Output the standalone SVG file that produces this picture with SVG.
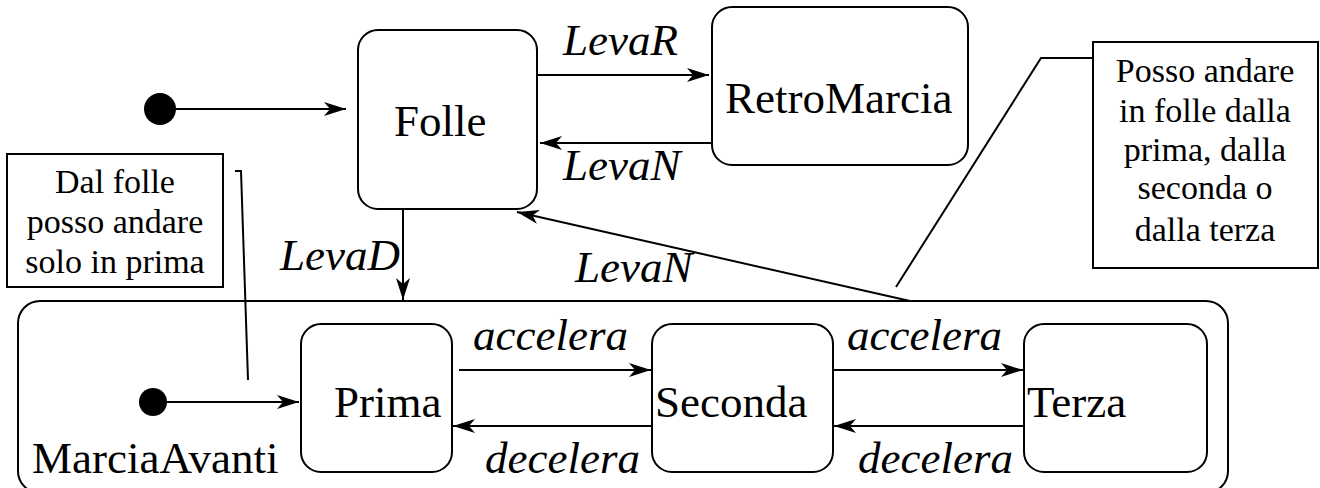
<svg xmlns="http://www.w3.org/2000/svg" width="1320" height="488" viewBox="0 0 1320 488" font-family="Liberation Serif, serif">
<style>
.box{fill:#fff;stroke:#000;stroke-width:2}
.note{fill:#fff;stroke:#000;stroke-width:2}
.ln{fill:none;stroke:#000;stroke-width:2}
.arr{fill:none;stroke:#000;stroke-width:2;marker-end:url(#ah)}
.t{font-family:'Liberation Serif',serif;font-size:45px;fill:#000}
.lbl{font-family:'Liberation Serif',serif;font-size:45px;font-style:italic;fill:#000}
.nt{font-family:'Liberation Serif',serif;font-size:34px;fill:#000;text-anchor:middle}
</style>
<defs>
<marker id="ah" markerUnits="userSpaceOnUse" markerWidth="24" markerHeight="16" refX="22" refY="7" orient="auto">
<path d="M0,0 L22,7 L0,14 L6,7 z" fill="#000"/>
</marker>
</defs>
<g id="MarciaAvanti">
<rect class="box" x="18" y="301" width="1210" height="192" rx="22"/>
<text class="t" x="32" y="473">MarciaAvanti</text>
</g>
<g id="init1"><circle cx="160" cy="109" r="16" fill="#000"/></g>
<g id="Folle">
<rect class="box" x="358" y="30" width="179" height="179" rx="20"/>
<text class="t" x="394" y="136">Folle</text>
</g>
<g id="RetroMarcia">
<rect class="box" x="712" y="7" width="256" height="158" rx="20"/>
<text class="t" x="725" y="113">RetroMarcia</text>
</g>
<g id="noteRight">
<rect class="note" x="1093" y="42" width="225" height="226"/>
<text class="nt" x="1205" y="82">Posso andare</text>
<text class="nt" x="1205" y="122">in folle dalla</text>
<text class="nt" x="1205" y="161">prima, dalla</text>
<text class="nt" x="1205" y="199">seconda o</text>
<text class="nt" x="1205" y="241">dalla terza</text>
</g>
<g id="noteLeft">
<rect class="note" x="7" y="154" width="216" height="133"/>
<text class="nt" x="115" y="193">Dal folle</text>
<text class="nt" x="115" y="233">posso andare</text>
<text class="nt" x="115" y="273">solo in prima</text>
</g>
<g id="init2"><circle cx="153" cy="402" r="14" fill="#000"/></g>
<g id="Prima">
<rect class="box" x="301" y="324" width="151" height="148" rx="20"/>
<text class="t" x="334" y="417">Prima</text>
</g>
<g id="Seconda">
<rect class="box" x="652" y="324" width="181" height="148" rx="20"/>
<text class="t" x="655" y="417">Seconda</text>
</g>
<g id="Terza">
<rect class="box" x="1024" y="324" width="183" height="148" rx="20"/>
<text class="t" x="1027" y="417">Terza</text>
</g>
<g id="connectors">
<line class="arr" x1="176" y1="109" x2="346" y2="109"/>
<line class="arr" x1="538" y1="75" x2="709" y2="75"/>
<line class="arr" x1="711" y1="143" x2="540" y2="143"/>
<line class="arr" x1="910" y1="301" x2="517" y2="212"/>
<line class="arr" x1="403" y1="210" x2="403" y2="300"/>
<line class="arr" x1="167" y1="402" x2="299" y2="402"/>
<line class="arr" x1="459" y1="370" x2="651" y2="370"/>
<line class="arr" x1="652" y1="426" x2="453" y2="426"/>
<line class="arr" x1="833" y1="370" x2="1023" y2="370"/>
<line class="arr" x1="1024" y1="426" x2="834" y2="426"/>
<polyline class="ln" points="1093,58 1041,58 896,287"/>
<polyline class="ln" points="235,171 241,171 248,380"/>
<text class="lbl" x="563" y="55">LevaR</text>
<text class="lbl" x="563" y="180">LevaN</text>
<text class="lbl" x="575" y="282">LevaN</text>
<text class="lbl" x="280" y="270">LevaD</text>
<text class="lbl" x="473" y="350">accelera</text>
<text class="lbl" x="485" y="473">decelera</text>
<text class="lbl" x="847" y="350">accelera</text>
<text class="lbl" x="858" y="473">decelera</text>
</g>
</svg>
